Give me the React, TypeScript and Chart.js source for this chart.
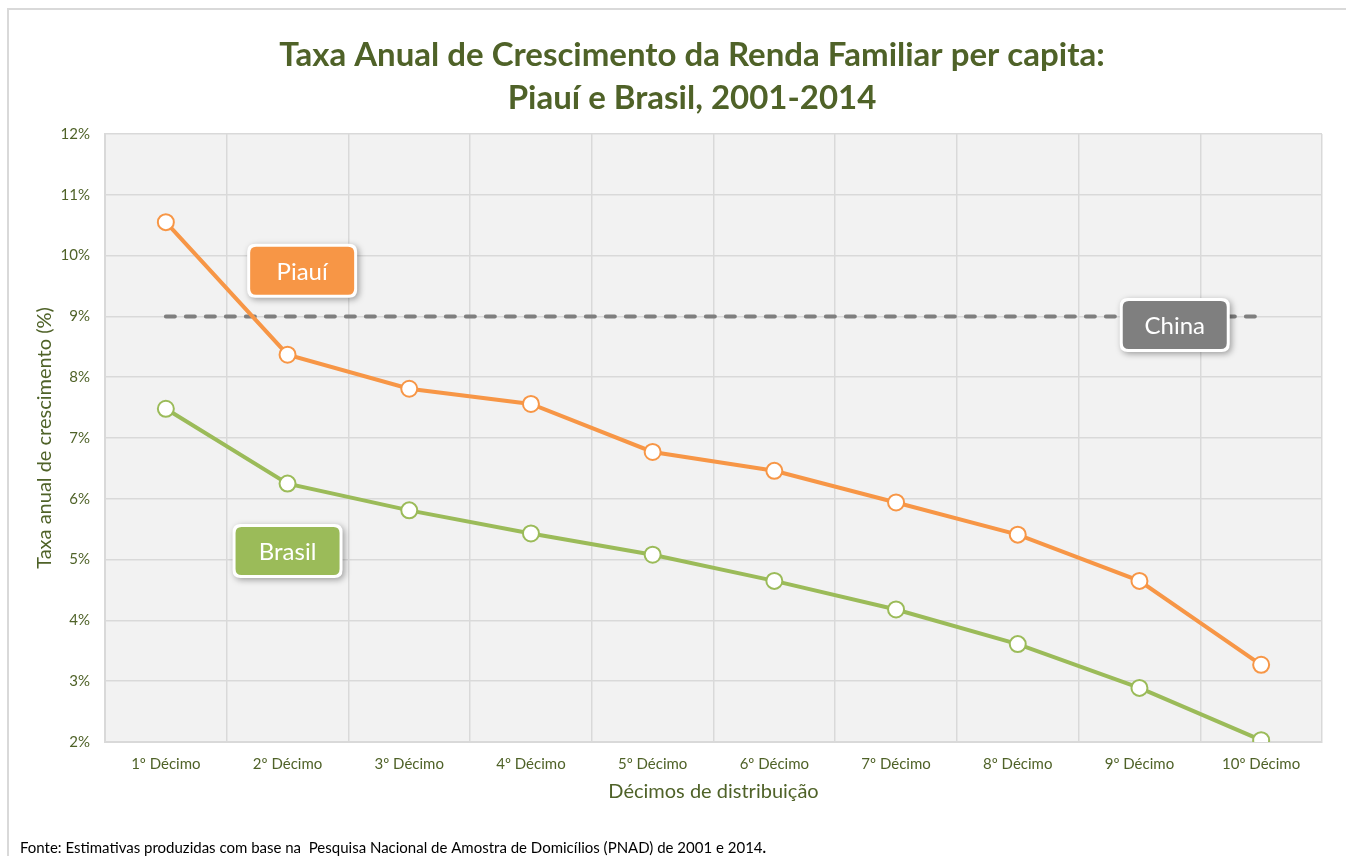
import { useEffect, useRef } from 'react';
import { Chart, registerables } from 'chart.js';

Chart.register(...registerables);

const categories = ['1º Décimo', '2º Décimo', '3º Décimo', '4º Décimo', '5º Décimo', '6º Décimo', '7º Décimo', '8º Décimo', '9º Décimo', '10º Décimo'];
const piauiValues = [10.55, 8.37, 7.81, 7.56, 6.77, 6.46, 5.94, 5.41, 4.65, 3.27];
const brasilValues = [7.48, 6.25, 5.81, 5.43, 5.08, 4.65, 4.18, 3.61, 2.89, 2.03];
const chinaValues = [9, 9, 9, 9, 9, 9, 9, 9, 9, 9];
const yMin = 2;
const yMax = 12;
const yStep = 1;
const titleLines = ['Taxa Anual de Crescimento da Renda Familiar per capita:', 'Piauí e Brasil, 2001-2014'];
const xTitle = 'Décimos de distribuição';
const yTitle = 'Taxa anual de crescimento (%)';
const footerText = 'Fonte: Estimativas produzidas com base na  Pesquisa Nacional de Amostra de Domicílios (PNAD) de 2001 e 2014';

const FONT = 'Lato, "Open Sans", sans-serif';
const GREEN_TEXT = '#4f6228';
const ORANGE = '#f79646';
const GREEN = '#9bbb59';
const GRAY = '#7f7f7f';
const GRID = '#d9d9d9';

// series name tags, anchored in data coordinates (category index, value)
const tags = [
  { text: 'Piauí', color: ORANGE, x: 1.12, y: 9.75 },
  { text: 'China', color: GRAY, x: 8.29, y: 8.86 },
  { text: 'Brasil', color: GREEN, x: 1.0, y: 5.14 },
];

function roundRect(ctx: CanvasRenderingContext2D, x: number, y: number, w: number, h: number, r: number) {
  ctx.beginPath();
  ctx.moveTo(x + r, y);
  ctx.lineTo(x + w - r, y);
  ctx.quadraticCurveTo(x + w, y, x + w, y + r);
  ctx.lineTo(x + w, y + h - r);
  ctx.quadraticCurveTo(x + w, y + h, x + w - r, y + h);
  ctx.lineTo(x + r, y + h);
  ctx.quadraticCurveTo(x, y + h, x, y + h - r);
  ctx.lineTo(x, y + r);
  ctx.quadraticCurveTo(x, y, x + r, y);
  ctx.closePath();
}

const decorPlugin = {
  id: 'decor',
  beforeDraw(chart: any) {
    const { ctx, chartArea } = chart;
    ctx.save();
    ctx.fillStyle = '#ffffff';
    ctx.fillRect(0, 0, chart.width, chart.height);
    ctx.fillStyle = '#f2f2f2';
    ctx.fillRect(chartArea.left, chartArea.top, chartArea.right - chartArea.left, chartArea.bottom - chartArea.top);
    // outer frame
    ctx.strokeStyle = GRID;
    ctx.lineWidth = 2;
    ctx.beginPath();
    ctx.moveTo(8, chart.height);
    ctx.lineTo(8, 9);
    ctx.lineTo(chart.width, 9);
    ctx.stroke();
    // title
    ctx.fillStyle = GREEN_TEXT;
    ctx.font = `bold 33px ${FONT}`;
    ctx.textAlign = 'center';
    ctx.textBaseline = 'middle';
    ctx.fillText(titleLines[0], 692, 55);
    ctx.fillText(titleLines[1], 692, 98);
    // footer
    ctx.fillStyle = '#000000';
    ctx.font = `15px ${FONT}`;
    ctx.textAlign = 'left';
    ctx.fillText(footerText, 20, 848);
    const w = ctx.measureText(footerText).width;
    ctx.font = `bold 15px ${FONT}`;
    ctx.fillText('.', 20 + w, 848);
    ctx.restore();
  },
  afterDatasetsDraw(chart: any) {
    const { ctx, scales } = chart;
    ctx.save();
    ctx.font = `24px ${FONT}`;
    ctx.textAlign = 'center';
    ctx.textBaseline = 'middle';
    for (const t of tags) {
      const cx = scales.x.getPixelForValue(t.x);
      const cy = scales.y.getPixelForValue(t.y);
      const bw = 104;
      const bh = 48;
      const x = cx - bw / 2;
      const y = cy - bh / 2;
      ctx.save();
      ctx.shadowColor = 'rgba(0,0,0,0.35)';
      ctx.shadowBlur = 6;
      ctx.shadowOffsetX = 2;
      ctx.shadowOffsetY = 2;
      roundRect(ctx, x - 3, y - 3, bw + 6, bh + 6, 8);
      ctx.fillStyle = '#ffffff';
      ctx.fill();
      ctx.restore();
      roundRect(ctx, x, y, bw, bh, 6);
      ctx.fillStyle = t.color;
      ctx.fill();
      ctx.fillStyle = '#ffffff';
      ctx.fillText(t.text, cx, cy + 1);
    }
    ctx.restore();
  },
};

export default function App() {
  const ref = useRef<HTMLCanvasElement | null>(null);

  useEffect(() => {
    document.body.style.margin = '0';
    document.body.style.overflow = 'hidden';
    const canvas = ref.current;
    if (!canvas) return;
    const chart = new Chart(canvas, {
      type: 'line',
      data: {
        labels: categories,
        datasets: [
          {
            label: 'Piauí',
            data: piauiValues,
            borderColor: ORANGE,
            borderWidth: 4,
            pointRadius: 8,
            pointBorderWidth: 2,
            pointBackgroundColor: '#ffffff',
            pointBorderColor: ORANGE,
            tension: 0,
          },
          {
            label: 'Brasil',
            data: brasilValues,
            borderColor: GREEN,
            borderWidth: 4,
            pointRadius: 8,
            pointBorderWidth: 2,
            pointBackgroundColor: '#ffffff',
            pointBorderColor: GREEN,
            tension: 0,
          },
          {
            label: 'China',
            data: chinaValues,
            borderColor: GRAY,
            borderWidth: 4,
            borderDash: [9, 11],
            borderCapStyle: 'round',
            pointRadius: 0,
            tension: 0,
          },
        ],
      },
      options: {
        responsive: false,
        animation: false,
        devicePixelRatio: 1,
        layout: { padding: { top: 134, left: 0, right: 24, bottom: 52 } },
        plugins: {
          legend: { display: false },
          tooltip: { enabled: false },
          title: { display: false },
        },
        scales: {
          x: {
            offset: true,
            grid: { offset: true, color: GRID, lineWidth: 1.5, drawTicks: false },
            border: { color: GRID, width: 2 },
            ticks: { color: GREEN_TEXT, font: { family: FONT, size: 15 }, padding: 13, maxRotation: 0 },
            title: { display: true, text: xTitle, color: GREEN_TEXT, font: { family: FONT, size: 20 }, padding: 0 },
            afterFit(scale: any) {
              scale.height = 62;
            },
          },
          y: {
            min: yMin,
            max: yMax,
            ticks: {
              stepSize: yStep,
              color: GREEN_TEXT,
              font: { family: FONT, size: 15 },
              padding: 15,
              callback: (v: any) => `${v}%`,
            },
            grid: { color: GRID, lineWidth: 1.5, drawTicks: false },
            border: { color: GRID, width: 2 },
            title: { display: true, text: yTitle, color: GREEN_TEXT, font: { family: FONT, size: 20 }, padding: { top: 33, bottom: 0 } },
            afterFit(scale: any) {
              scale.width = 105;
            },
          },
        },
      },
      plugins: [decorPlugin],
    } as any);
    return () => chart.destroy();
  }, []);

  return (
    <div style={{ width: 1346, height: 856 }}>
      <canvas ref={ref} width={1346} height={856} style={{ display: 'block' }} />
    </div>
  );
}
